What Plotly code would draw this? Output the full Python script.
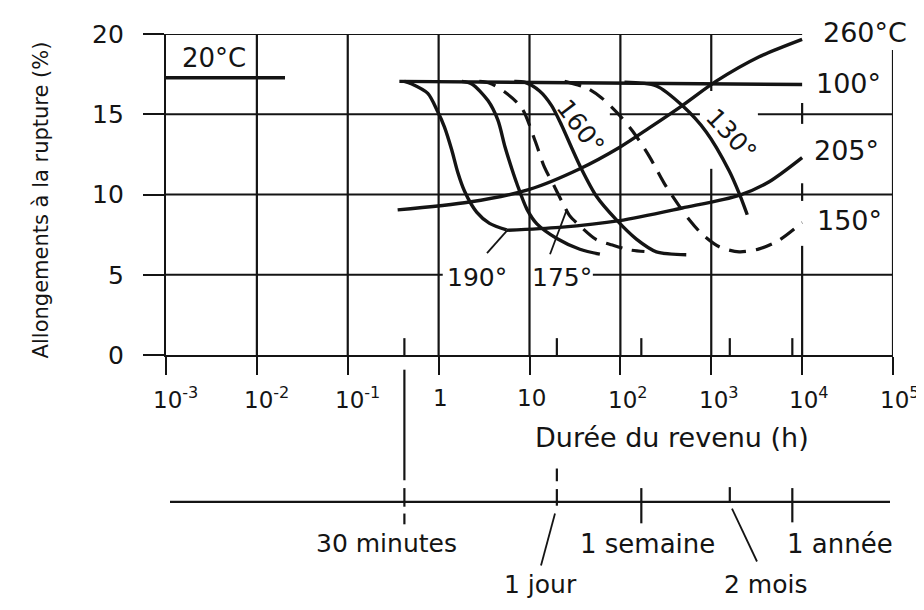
import math
import plotly.graph_objects as go

# ---------------- data ----------------
# durée du revenu (h) / allongement à la rupture (%)
t_20 = [0.001, 0.0204]
a_20 = [17.27, 17.27]

t_100 = [0.37, 10000]
a_100 = [17.05, 16.85]

t_190 = [0.42, 0.5, 0.76, 0.97, 1.16, 1.39, 1.62, 1.93, 2.62, 3.63, 5.6]
a_190 = [17.05, 16.9, 16.3, 15.2, 14.2, 12.8, 11.4, 10.2, 8.9, 8.2, 7.8]

t_b = [1.8, 2.32, 3.49, 4.49, 5.36, 6.4, 7.27, 9.36, 12.06, 20, 35.8, 59.5]
a_b = [17.05, 16.89, 15.85, 14.63, 12.99, 11.59, 10.67, 9.09, 8.17, 7.26, 6.59, 6.28]

t_175 = [2.8, 3.6, 5.3, 8.2, 11.6, 14.6, 18.8, 23, 27.5, 35, 54, 82, 126, 184]
a_175 = [17.05, 16.95, 16.4, 15.4, 13.3, 11.7, 10.5, 9.5, 8.7, 8.1, 7.2, 6.85, 6.55, 6.45]

t_160 = [6.8, 8.8, 12.9, 17.5, 22.5, 29, 37.3, 54.5, 90, 150, 249, 531]
a_160 = [17.05, 17.0, 16.45, 15.54, 14.33, 12.93, 11.59, 9.89, 8.43, 7.22, 6.43, 6.25]

t_150 = [24.3, 42.3, 61.8, 97.5, 136, 208, 305, 445, 573, 796, 1225, 2030, 3370, 5580, 10000]
a_150 = [17.05, 16.64, 16.03, 14.94, 13.96, 12.38, 10.68, 9.28, 8.43, 7.52, 6.74, 6.43, 6.61, 7.15, 8.25]

t_130 = [111, 249, 480, 881, 1578, 2030, 2490]
a_130 = [17.0, 16.76, 15.54, 13.9, 11.47, 10.07, 8.74]

t_205 = [5.6, 21.4, 97.5, 480, 2030, 4340, 10000]
a_205 = [7.77, 7.95, 8.37, 9.16, 9.95, 10.8, 12.3]

t_260 = [0.354, 2.19, 10, 35.4, 97.5, 208, 480, 1135, 3370, 10000]
a_260 = [9.04, 9.53, 10.32, 11.59, 12.93, 14.15, 15.54, 17.06, 18.58, 19.67]

x_tickvals = [1e-3, 1e-2, 1e-1, 1, 10, 1e2, 1e3, 1e4, 1e5]
x_ticktext = ["10<sup>-3</sup>", "10<sup>-2</sup>", "10<sup>-1</sup>", "1", "10",
              "10<sup>2</sup>", "10<sup>3</sup>", "10<sup>4</sup>", "10<sup>5</sup>"]
y_tickvals = [0, 5, 10, 15, 20]

# repères de durée (h) sur l'échelle du bas
mark_hours = [0.42, 20, 170, 1600, 7800]
mark_labels = ["30 minutes", "1 jour", "1 semaine", "2 mois", "1 année"]

# ---------------- figure ----------------
INK = "#141414"
FONT = "DejaVu Sans"
OFF = 8                      # page body margin of the html page
W, H = 924 - OFF, 610 - OFF
X0, X1, Y_TOP, Y0 = 166, 893, 27, 355   # plot area in page pixels
ML, MR, MT, MB = X0 - OFF, 924 - X1, Y_TOP - OFF, 610 - Y0
PW, PH = X1 - X0, Y0 - Y_TOP


def px_x(px):
    return (px - X0) / PW


def px_y(py):
    return (Y0 - py) / PH


fig = go.Figure()

solid = dict(color=INK, width=3.4)
dashed = dict(color=INK, width=3.2, dash="17px,10px")


def add_curve(t, a, line):
    fig.add_trace(go.Scatter(x=t, y=a, mode="lines", line=dict(shape="spline", smoothing=0.8, **line),
                             hoverinfo="skip", showlegend=False))


add_curve(t_20, a_20, solid)
add_curve(t_100, a_100, solid)
add_curve(t_190, a_190, solid)
add_curve(t_b, a_b, solid)
add_curve(t_175, a_175, dashed)
add_curve(t_160, a_160, solid)
add_curve(t_150, a_150, dashed)
add_curve(t_130, a_130, solid)
add_curve(t_205, a_205, solid)
add_curve(t_260, a_260, solid)

shapes = []
GW = 2.2


def seg(x0, y0, x1, y1, xref="x", yref="y", width=GW):
    shapes.append(dict(type="line", xref=xref, yref=yref, x0=x0, y0=y0, x1=x1, y1=y1,
                       line=dict(color=INK, width=width), layer="below"))


# horizontal grid lines (with gaps behind labels)
seg(1e-3, 5, 1.11, 5)
seg(49.8, 5, 1e5, 5)
seg(1e-3, 10, 1e5, 10)
seg(1e-3, 15, 20, 15)
seg(76.6, 15, 750, 15)
seg(3260, 15, 1e5, 15)
seg(1e-3, 20, 1e4, 20)

# vertical grid lines
for v in [1e-2, 1e-1, 1, 10, 1e2]:
    seg(v, 0, v, 20)
seg(1e3, 0, 1e3, 11.6)
seg(1e3, 16.45, 1e3, 20)
for y0, y1 in [(0, 6.8), (9.6, 10.7), (14.4, 15.7)]:
    seg(1e4, y0, 1e4, y1)
seg(1e5, 0, 1e5, 19.0)

# small ticks above the axis for the time marks
for h in mark_hours:
    seg(h, 0, h, 1.05)

# secondary (calendar) scale below
seg(px_x(170), px_y(505), px_x(890), px_y(505), xref="paper", yref="paper")
xm = mark_hours[0]
seg(xm, px_y(370), xm, px_y(483), yref="paper")
seg(xm, px_y(491), xm, px_y(510), yref="paper")
seg(xm, px_y(517), xm, px_y(528), yref="paper")
xj = mark_hours[1]
seg(xj, px_y(471), xj, px_y(484), yref="paper")
seg(xj, px_y(492), xj, px_y(509), yref="paper")
seg(mark_hours[2], px_y(491), mark_hours[2], px_y(527), yref="paper")
seg(mark_hours[3], px_y(490), mark_hours[3], px_y(505), yref="paper")
seg(mark_hours[4], px_y(491), mark_hours[4], px_y(526), yref="paper")
seg(px_x(555), px_y(517), px_x(541), px_y(570), xref="paper", yref="paper", width=1.8)
seg(px_x(732), px_y(512), px_x(757), px_y(566), xref="paper", yref="paper", width=1.8)
seg(px_x(487), px_y(251), px_x(507), px_y(228), xref="paper", yref="paper", width=1.8)
seg(px_x(550), px_y(252), px_x(567), px_y(206), xref="paper", yref="paper", width=1.8)

annotations = []


def label(text, px, py, size=24, xanchor="center", angle=0):
    annotations.append(dict(text=text, xref="paper", yref="paper", x=px_x(px), y=px_y(py),
                            xanchor=xanchor, yanchor="middle", showarrow=False, textangle=angle,
                            font=dict(family=FONT, size=size, color=INK)))


# x tick labels: the "10" part centred on the tick, exponent hanging to the right
TICK_SIZE = 23
for v, txt in zip(x_tickvals, x_ticktext):
    base = txt.split("<sup>")[0]
    half = 0.318 * TICK_SIZE * len(base)
    px = X0 + PW * (math.log10(v) + 3) / 8
    label(txt, px - half, 399, size=TICK_SIZE, xanchor="left")

label("20°C", 214, 52, size=26)
label("260°C", 821, 25, size=27, xanchor="left")
label("100°", 814, 78, size=27, xanchor="left")
label("205°", 812, 146, size=27, xanchor="left")
label("150°", 815, 218, size=27, xanchor="left")
label("160°", 580, 122, size=25, angle=53)
label("130°", 731, 130, size=25, angle=47)
label("190°", 477, 276, size=25)
label("175°", 562, 276, size=25)
label("Durée du revenu (h)", 672, 439, size=27)
label(mark_labels[0], 386, 548, size=25)
label(mark_labels[1], 540, 590, size=25)
label(mark_labels[2], 647, 548, size=26)
label(mark_labels[3], 765, 590, size=25)
label(mark_labels[4], 840, 548, size=26)
label("Allongements à la rupture (%)", 41, 196, size=21, angle=-90)

fig.update_layout(
    width=W, height=H,
    margin=dict(l=ML, r=MR, t=MT, b=MB, pad=0),
    paper_bgcolor="white", plot_bgcolor="white",
    shapes=shapes, annotations=annotations,
    font=dict(family=FONT, color=INK),
    xaxis=dict(type="log", range=[-3, 5], showgrid=False, zeroline=False,
               showline=True, linecolor=INK, linewidth=2.2,
               ticks="outside", ticklen=18, tickwidth=2.2, tickcolor=INK,
               tickvals=x_tickvals, showticklabels=False),
    yaxis=dict(range=[0, 20], showgrid=False, zeroline=False,
               showline=True, linecolor=INK, linewidth=2.2,
               ticks="outside", ticklen=21, tickwidth=2.2, tickcolor=INK,
               tickvals=y_tickvals, tickfont=dict(family=FONT, size=25, color=INK),
               ticklabelstandoff=14),
)

fig.write_html("out.html")
